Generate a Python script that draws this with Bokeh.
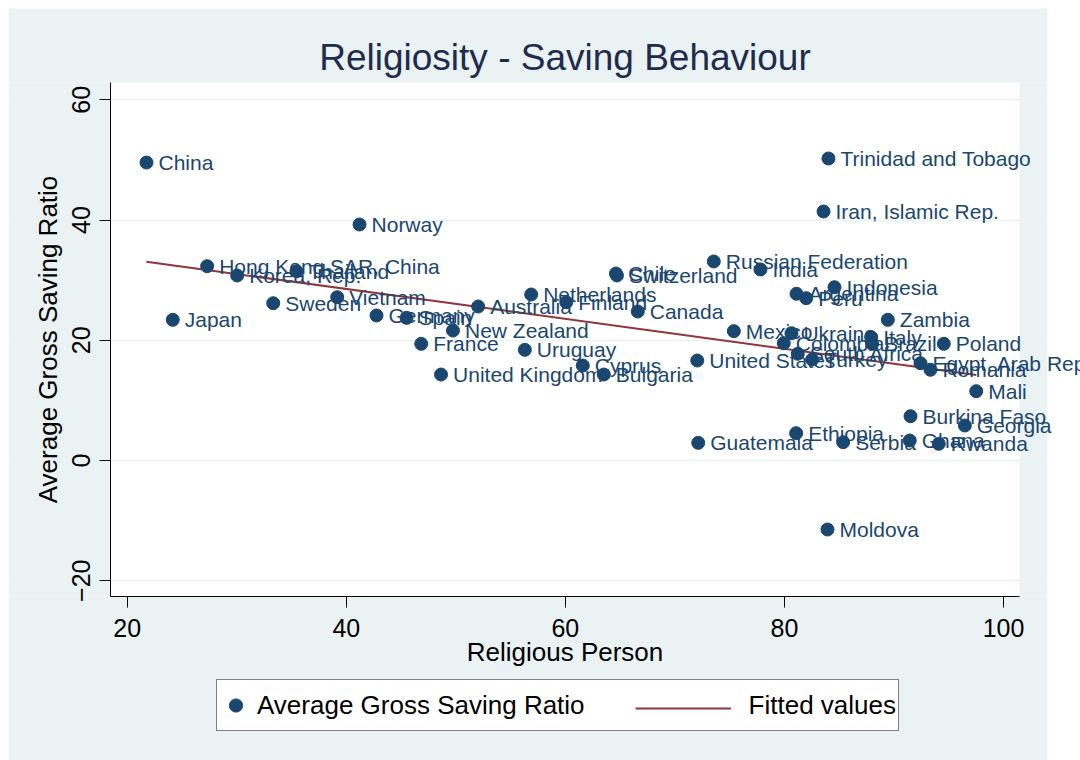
import numpy as np
from bokeh.plotting import figure
from bokeh.models import (Range1d, Legend, LegendItem, FixedTicker, ColumnDataSource,
                          LabelSet, Label, BoxAnnotation)
from bokeh.core.properties import value
from bokeh.embed import file_html
from bokeh.resources import INLINE

countries = ["China", "Hong Kong SAR, China", "Korea, Rep.", "Thailand", "Japan", "Sweden",
             "Vietnam", "Norway", "Germany", "Spain", "France", "New Zealand", "United Kingdom",
             "Australia", "Netherlands", "Uruguay", "Finland", "Cyprus", "Bulgaria", "Chile",
             "Switzerland", "Canada", "Guatemala", "United States", "Russian Federation", "Mexico",
             "India", "Colombia", "Ukraine", "Ethiopia", "Argentina", "Peru", "South Africa",
             "Turkey", "Indonesia", "Trinidad and Tobago", "Iran, Islamic Rep.", "Moldova",
             "Serbia", "Zambia", "Italy", "Brazil", "Poland", "Egypt, Arab Rep.", "Romania",
             "Mali", "Burkina Faso", "Georgia", "Ghana", "Rwanda"]
religious = [21.76, 27.30, 30.04, 35.46, 24.16, 33.33,
             39.17, 41.21, 42.76, 45.50, 46.84, 49.74, 48.65,
             52.04, 56.88, 56.30, 60.08, 61.59, 63.51, 64.62,
             64.71, 66.61, 72.13, 72.04, 73.55, 75.38,
             77.81, 79.94, 80.64, 81.07, 81.10, 81.99, 81.22,
             82.53, 84.57, 84.02, 83.57, 83.93,
             85.36, 89.44, 87.92, 88.01, 94.55, 92.42, 93.33,
             97.51, 91.51, 96.47, 91.44, 94.09]
saving = [49.56, 32.32, 30.77, 31.48, 23.40, 26.16,
          27.16, 39.25, 24.12, 23.73, 19.41, 21.62, 14.30,
          25.61, 27.61, 18.41, 26.33, 15.80, 14.30, 31.10,
          30.77, 24.78, 2.94, 16.63, 33.10, 21.51,
          31.77, 19.51, 21.17, 4.54, 27.73, 27.00, 17.75,
          16.80, 28.82, 50.23, 41.41, -11.48,
          3.04, 23.40, 20.51, 19.41, 19.41, 16.18, 15.09,
          11.53, 7.37, 5.82, 3.33, 2.78]

x_ticks = [20, 40, 60, 80, 100]
y_ticks = [-20, 0, 20, 40, 60]

FONT = "Liberation Sans"
NAVY = "#1a476f"
MAROON = "#90353b"
BG = "#eaf2f3"

W, H = 1080, 760

# pixel -> data conversion of the canvas (x: 20 at px 126.7, 10.954 px/unit; y: 0 at px 460, 6.0125 px/unit)
def X(px):
    return 20 + (px - 126.7) / 10.954

def Y(py):
    return (460 - py) / 6.0125

# plot region (white) and outer background (grey-blue) in pixels
PL, PR, PT, PB = 110, 1019, 82, 596
OL, OR, OT = 8, 1047, 8

src = ColumnDataSource(dict(x=religious, y=saving, name=countries))

xa = np.array(religious)
ya = np.array(saving)
slope, intercept = np.polyfit(xa, ya, 1)
fx = [float(xa.min()), float(xa.max())]
fy = [intercept + slope * v for v in fx]

p = figure(width=W, height=H, output_backend="svg", toolbar_location=None,
           x_range=Range1d(X(0), X(W)), y_range=Range1d(Y(H), Y(0)),
           min_border_left=0, min_border_right=0, min_border_top=0, min_border_bottom=0)
p.title.visible = False
p.border_fill_color = "white"
p.background_fill_color = "white"
p.outline_line_color = None

p.xgrid.visible = False
p.ygrid.ticker = FixedTicker(ticks=y_ticks)
p.ygrid.grid_line_color = BG
p.ygrid.grid_line_width = 1.5

# outer background around the white plot region
for kw in (dict(left=X(OL), right=X(OR), bottom=Y(PT), top=Y(OT)),
           dict(left=X(OL), right=X(OR), top=Y(PB)),
           dict(left=X(OL), right=X(PL), bottom=Y(PB), top=Y(PT)),
           dict(left=X(PR), right=X(OR), bottom=Y(PB), top=Y(PT))):
    p.add_layout(BoxAnnotation(fill_color=BG, fill_alpha=1, line_color=None,
                               level="underlay", **kw))
# page margins stay white
p.add_layout(BoxAnnotation(left=X(OR), fill_color="white", fill_alpha=1, line_color=None,
                           level="underlay"))
p.add_layout(BoxAnnotation(right=X(OL), fill_color="white", fill_alpha=1, line_color=None,
                           level="underlay"))

for ax in (p.xaxis[0], p.yaxis[0]):
    ax.major_tick_out = 11
    ax.major_tick_in = 0
    ax.minor_tick_line_color = None
    ax.axis_line_color = "black"
    ax.major_tick_line_color = "black"
    ax.major_label_text_font = FONT
    ax.major_label_text_font_size = "25px"
    ax.major_label_text_color = "black"
    ax.axis_label_text_font = FONT
    ax.axis_label_text_font_size = "26px"
    ax.axis_label_text_font_style = "normal"
    ax.axis_label_text_color = "black"

p.xaxis.ticker = FixedTicker(ticks=x_ticks)
p.yaxis.ticker = FixedTicker(ticks=y_ticks)
p.xaxis.fixed_location = Y(PB)
p.yaxis.fixed_location = X(PL)
p.xaxis.bounds = (X(PL), X(PR))
p.yaxis.bounds = (Y(PB), Y(PT))
p.xaxis.axis_label = "Religious Person"
p.yaxis.axis_label = "Average Gross Saving Ratio"
p.yaxis.major_label_orientation = "parallel"
p.xaxis.major_label_standoff = 11
p.yaxis.major_label_standoff = 10
p.xaxis.axis_label_standoff = -3
p.yaxis.axis_label_standoff = 6

fit = p.line(fx, fy, line_color=MAROON, line_width=2)
pts = p.scatter("x", "y", source=src, size=13, fill_color=NAVY, line_color=NAVY)
dummy = p.line([fx[0]], [fy[0]], line_alpha=0)

labels = LabelSet(x="x", y="y", text="name", source=src, x_offset=12, y_offset=0,
                  text_baseline="middle", text_font=value(FONT), text_font_size="21px",
                  text_color=NAVY)
p.add_layout(labels)

title = Label(x=X((PL + PR) / 2), y=Y(57), text="Religiosity - Saving Behaviour",
              text_align="center", text_baseline="alphabetic", text_font=FONT,
              text_font_size="37px", text_color="#1e2c50")
p.add_layout(title)

leg1 = Legend(items=[LegendItem(label="Average Gross Saving Ratio", renderers=[pts]),
                     LegendItem(label="Fitted values", renderers=[dummy])],
              orientation="horizontal", location=(216, H - 731), margin=0, padding=2,
              glyph_width=33, glyph_height=46, label_standoff=5, spacing=126,
              label_text_font=FONT, label_text_font_size="26px", label_text_color="black",
              border_line_color="black", border_line_width=1,
              background_fill_color="white", background_fill_alpha=1.0)
leg2 = Legend(items=[LegendItem(label=value(" "), renderers=[fit])],
              orientation="horizontal", location=(635, H - 731), margin=0, padding=2,
              glyph_width=96, glyph_height=46, label_standoff=0,
              label_text_font=FONT, label_text_font_size="26px", label_text_alpha=0,
              border_line_color=None, background_fill_alpha=0)
p.add_layout(leg1)
p.add_layout(leg2)

open("out.html", "w").write(file_html(p, INLINE))
